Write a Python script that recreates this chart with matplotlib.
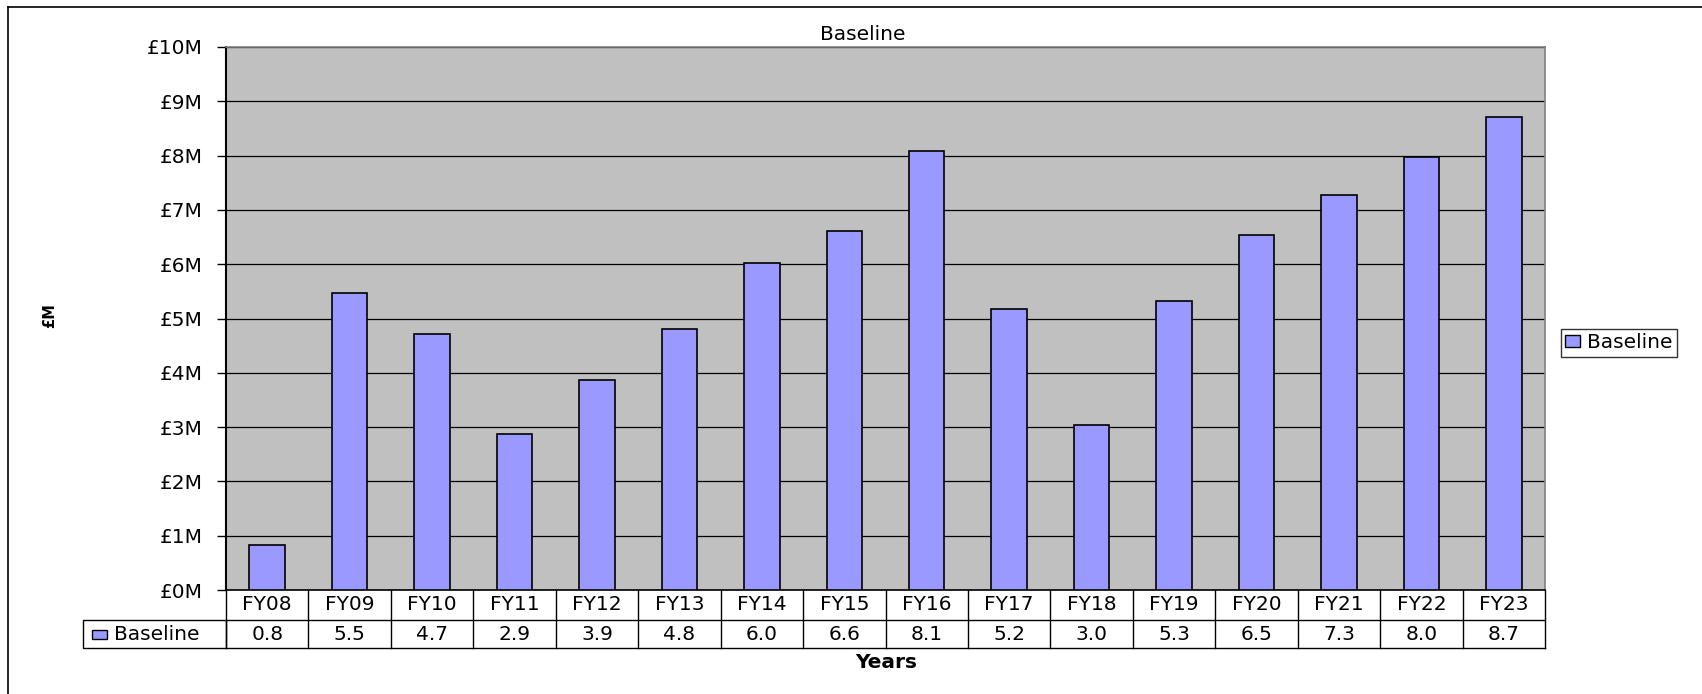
import matplotlib.pyplot as plt
import matplotlib.patches as mpatches
import matplotlib.transforms as mtransforms
from matplotlib.lines import Line2D

plt.rcParams['font.family'] = ['DejaVu Sans']

years = ['FY08', 'FY09', 'FY10', 'FY11', 'FY12', 'FY13', 'FY14', 'FY15',
         'FY16', 'FY17', 'FY18', 'FY19', 'FY20', 'FY21', 'FY22', 'FY23']
baseline = [0.82, 5.47, 4.72, 2.87, 3.87, 4.80, 6.02, 6.62,
            8.08, 5.18, 3.04, 5.33, 6.54, 7.27, 7.98, 8.72]
yticks = list(range(0, 11))
ytick_labels = ['£%dM' % v for v in yticks]

W, H = 1702, 694
FS = 14.5
fig = plt.figure(figsize=(W / 100, H / 100), dpi=100)

# plot area in pixels
L, R, T, B = 226, 1545, 47, 590
ax = fig.add_axes([L / W, 1 - B / H, (R - L) / W, (B - T) / H])
ax.set_facecolor('#C0C0C0')

x = range(len(years))
ax.bar(x, baseline, width=0.43, color='#9999FF', edgecolor='black',
       linewidth=1.2, zorder=3)

ax.set_xlim(-0.5, len(years) - 0.5)
ax.set_ylim(0, 10)
ax.set_yticks(yticks)
ax.set_yticklabels(ytick_labels, fontsize=FS)
ax.tick_params(axis='y', direction='out', length=6.5, width=1, pad=10)
ax.set_xticks([])
ax.yaxis.grid(True, color='black', linewidth=0.9, zorder=1)
ax.set_axisbelow(True)
for s in ['top', 'right']:
    ax.spines[s].set_color('#808080')
    ax.spines[s].set_linewidth(1.2)
ax.spines['left'].set_linewidth(1.5)
ax.spines['bottom'].set_linewidth(1.2)

# data table under the plot (x in data units, y in axes fraction)
ph = B - T
hdr = 30 / ph
row = 28 / ph
trans = mtransforms.blended_transform_factory(ax.transData, ax.transAxes)
lw = 1.0
n = len(years)
for i in range(n + 1):
    ax.add_line(Line2D([i - 0.5, i - 0.5], [0, -(hdr + row)], transform=trans,
                       color='black', linewidth=lw, clip_on=False))
ax.add_line(Line2D([-0.5, n - 0.5], [-hdr, -hdr], transform=trans,
                   color='black', linewidth=lw, clip_on=False))
ax.add_line(Line2D([-0.5, n - 0.5], [-(hdr + row), -(hdr + row)],
                   transform=trans, color='black', linewidth=lw, clip_on=False))
for i, (yr, v) in enumerate(zip(years, baseline)):
    ax.text(i, -hdr / 2, yr, transform=trans, ha='center', va='center',
            fontsize=FS)
    ax.text(i, -hdr - row / 2, '%.1f' % v, transform=trans, ha='center',
            va='center', fontsize=FS)

# row label cell with legend key
x0 = (83 - L) / (R - L)
ax.add_patch(mpatches.Rectangle((x0, -(hdr + row)), -x0, row,
                                transform=ax.transAxes, facecolor='white',
                                edgecolor='black', linewidth=lw,
                                clip_on=False))
ax.add_patch(mpatches.Rectangle(((92 - L) / (R - L), -hdr - row / 2 - 4.5 / ph),
                                15 / (R - L), 9 / ph,
                                transform=ax.transAxes, facecolor='#9999FF',
                                edgecolor='black', linewidth=1.0,
                                clip_on=False))
ax.text((114 - L) / (R - L), -hdr - row / 2, 'Baseline', transform=ax.transAxes,
        ha='left', va='center', fontsize=FS)

fig.text(863 / W, 1 - 35 / H, 'Baseline', ha='center', va='center', fontsize=FS)
fig.text(50 / W, 1 - 316 / H, '£M', ha='center', va='center', rotation=90,
         fontsize=10.5, fontweight='bold')
fig.text(886 / W, 1 - 662 / H, 'Years', ha='center', va='center',
         fontsize=FS, fontweight='bold')

handle = mpatches.Patch(facecolor='#9999FF', edgecolor='black', linewidth=1.0)
leg = fig.legend([handle], ['Baseline'], loc='center left',
                 bbox_to_anchor=(1561 / W, 1 - 343 / H), fontsize=FS,
                 frameon=True, fancybox=False, borderpad=0.2,
                 handlelength=0.75, handleheight=0.55, handletextpad=0.35,
                 borderaxespad=0)
leg.get_frame().set_edgecolor('black')
leg.get_frame().set_linewidth(1.0)

# outer chart border (runs off the right and bottom edges)
fig.add_artist(Line2D([8 / W, 1.01], [1 - 7 / H, 1 - 7 / H],
                      transform=fig.transFigure, color='black', linewidth=1.2))
fig.add_artist(Line2D([8 / W, 8 / W], [1 - 7 / H, -0.01],
                      transform=fig.transFigure, color='black', linewidth=1.2))

fig.savefig('out.png', dpi=100)
